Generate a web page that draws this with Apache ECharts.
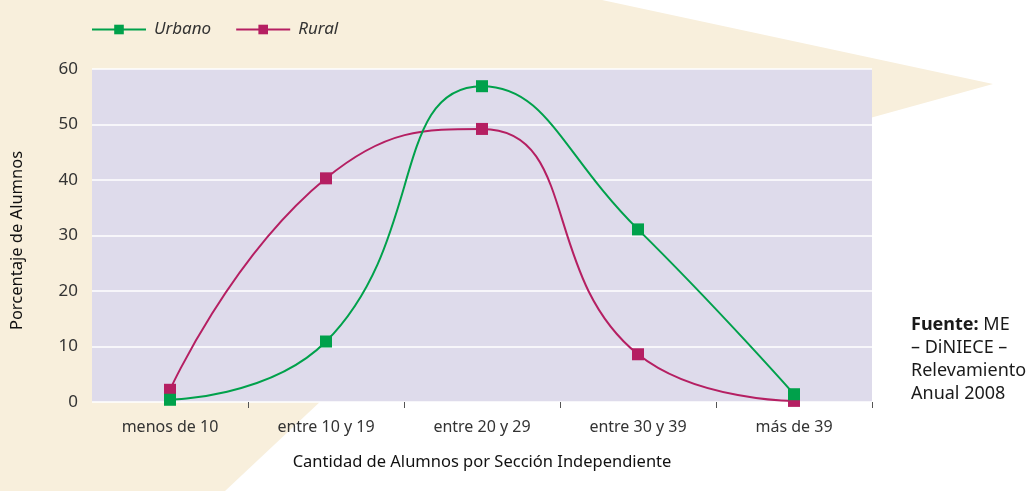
<!doctype html>
<html>
	<head>
		<meta charset="UTF-8">
		<title></title>
		<style>
			html, body { margin: 0; padding: 0; background: #fff; }
			#chart { width: 1030px; height: 491px; }
		</style>
	</head>
	<body>
		<div id="chart"></div>
		<script src="https://cdn.jsdelivr.net/npm/echarts@6/dist/echarts.min.js"></script>
		<script type="text/javascript">
			// categorias del eje X
			var categorias = ['menos de 10', 'entre 10 y 19', 'entre 20 y 29', 'entre 30 y 39', 'más de 39'];
			// porcentajes
			var urbano = [0.4, 10.9, 56.9, 31.1, 1.4];
			var rural = [2.2, 40.3, 49.2, 8.6, 0.2];
			var yTicks = [0, 10, 20, 30, 40, 50, 60];

			var fuente = 'Noto Sans';
			var gris = '#333333';

			var chartOption = {
				backgroundColor: '#ffffff',
				textStyle: { fontFamily: fuente },
				graphic: [{
					// fondo beige en forma de flecha
					type: 'polygon',
					z: -10,
					shape: {
						points: [[0, 0], [602, 0], [993, 84], [519, 215], [225, 491], [0, 491]]
					},
					style: { fill: '#f8efdc' }
				}, {
					type: 'text',
					left: 911,
					top: 313,
					style: {
						text: '{b|Fuente:} ME\n– DiNIECE –\nRelevamiento\nAnual 2008',
						fontFamily: fuente,
						fontSize: 18,
						lineHeight: 23,
						fill: '#1a1a1a',
						rich: {
							b: { fontWeight: 'bold', fontSize: 18, fontFamily: fuente, fill: '#1a1a1a' }
						}
					}
				}],
				legend: {
					left: 86,
					top: 16,
					itemWidth: 54,
					itemHeight: 12,
					itemGap: 24,
					textStyle: { fontSize: 17, fontStyle: 'italic', color: gris, fontFamily: fuente, padding: [9, 0, 0, 3] },
					data: ['Urbano', 'Rural']
				},
				grid: {
					left: 92,
					right: 158,
					top: 69,
					bottom: 89,
					outerBoundsMode: 'none',
					containLabel: false,
					show: true,
					backgroundColor: '#dedbeb',
					borderWidth: 0
				},
				xAxis: {
					type: 'category',
					data: categorias,
					name: 'Cantidad de Alumnos por Sección Independiente',
					nameLocation: 'middle',
					nameGap: 52,
					nameTextStyle: { fontSize: 16.5, color: '#111' },
					axisLine: { show: false },
					axisTick: {
						show: true,
						length: 6,
						lineStyle: { color: '#555' },
						interval: function (index) { return index > 0 && index < categorias.length; }
					},
					axisLabel: { fontSize: 16, color: gris, margin: 17 }
				},
				yAxis: {
					type: 'value',
					min: yTicks[0],
					max: yTicks[yTicks.length - 1],
					interval: 10,
					name: 'Porcentaje de Alumnos',
					nameLocation: 'middle',
					nameGap: 66,
					nameRotate: 90,
					nameTextStyle: { fontSize: 16.5, color: '#111', padding: [0, 10, 0, 0] },
					axisLine: { show: false },
					axisTick: { show: false },
					axisLabel: { fontSize: 17, color: gris, margin: 14, padding: [10, 0, 0, 0] },
					splitLine: { lineStyle: { color: '#ffffff', width: 1.5 } }
				},
				series: [{
					name: 'Urbano',
					type: 'line',
					smooth: 0.5,
					symbol: 'rect',
					symbolSize: 12,
					color: '#00a14b',
					lineStyle: { width: 2 },
					data: urbano
				}, {
					name: 'Rural',
					type: 'line',
					smooth: 0.5,
					symbol: 'rect',
					symbolSize: 12,
					color: '#b51f62',
					lineStyle: { width: 2 },
					z: 1,
					data: rural
				}]
			};
			var lineChart = echarts.init(document.getElementById('chart'));
			lineChart.setOption(chartOption);
		</script>
	</body>
</html>
